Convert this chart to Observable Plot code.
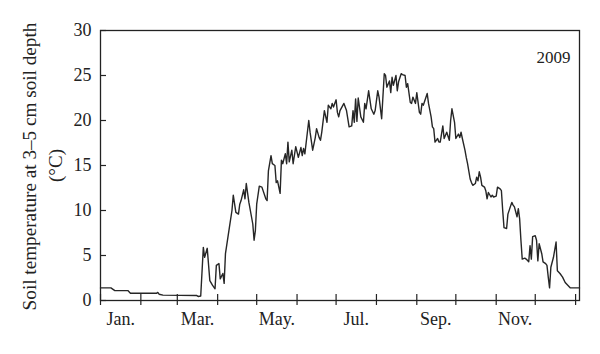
<!DOCTYPE html>
<html><head><meta charset="utf-8">
<script src="https://cdn.jsdelivr.net/npm/d3@7"></script>
<script src="https://cdn.jsdelivr.net/npm/@observablehq/plot@0.6"></script>
<style>body{margin:0;background:#fff;}</style>
</head><body><div id="chart"></div>
<script>
// Day of year (0 = 1 January 2009) and soil temperature (°C)
const days = [0,8,11,21,23,43,44,45,48,74,75,77,79,80,82,84,86,88,89,91,92,94,95,96,99,101,102,104,106,107,108,110,111,112,114,117,118,119,120,122,124,127,128,129,131,132,134,135,136,138,139,140,142,143,144,145,147,148,150,152,154,155,156,157,160,161,163,165,166,168,169,170,172,174,175,177,178,179,181,182,183,184,187,189,191,193,194,195,196,197,198,200,202,203,204,206,208,210,211,213,214,216,218,219,220,222,223,224,225,227,228,229,231,232,234,235,236,238,239,240,242,243,245,246,247,248,251,252,254,255,256,257,259,260,261,263,264,266,268,269,270,272,273,275,276,277,278,280,281,282,284,285,286,288,289,290,291,292,293,295,296,297,298,300,301,302,304,305,307,308,309,310,312,313,316,317,318,320,321,322,323,324,326,327,329,330,331,332,334,335,336,337,339,340,342,343,344,345,346,348,350,351,353,355,357,359,361,368];
const temps = [1.4,1.4,1.1,1.1,0.8,0.8,0.9,0.7,0.6,0.55,0.45,0.5,5.9,4.8,5.8,2.2,1.7,1.3,3.9,4.1,2.4,3.0,1.9,5.2,8.1,10.0,11.7,9.8,9.6,10.7,11.1,12.3,11.3,13.0,10.9,8.5,6.7,7.8,10.7,12.7,12.6,11.3,11.1,14.4,16.1,15.2,15.0,13.1,13.3,11.9,15.6,15.2,16.3,15.2,17.6,15.4,16.7,15.2,17.1,15.9,17.0,16.1,16.9,16.3,20.0,18.7,16.7,18.1,19.1,18.1,17.8,18.7,21.1,19.8,21.7,21.3,21.9,21.5,22.3,20.9,20.4,21.1,21.9,21.1,19.3,19.4,21.1,19.8,22.4,19.9,22.5,20.4,19.8,21.9,21.3,23.3,21.3,20.7,21.1,23.3,22.6,20.2,25.2,25.0,23.7,24.4,23.1,24.8,23.9,25.0,23.3,24.3,25.2,25.1,25.0,23.7,24.1,22.0,21.9,22.6,21.9,23.1,20.9,20.7,21.9,21.7,23.0,21.9,20.4,19.3,19.1,17.6,18.0,17.6,17.6,19.4,18.0,18.7,17.8,20.0,21.3,19.8,18.0,18.5,18.1,18.7,18.0,16.7,15.9,15.2,13.5,13.1,12.8,13.0,13.7,13.3,14.3,13.7,12.8,12.6,12.2,11.3,12.0,11.5,11.7,11.5,11.6,12.6,12.4,12.2,10.0,8.1,8.0,9.6,10.9,10.6,10.4,9.3,10.2,9.1,6.7,4.6,4.7,4.6,4.3,6.1,4.6,7.1,7.2,6.7,4.4,6.3,5.2,4.3,4.1,3.9,2.6,1.4,3.7,4.8,6.5,3.3,3.0,2.6,2.0,1.7,1.4,1.4];
const monthStarts = [0,31,59,90,120,151,181,212,243,273,304,334,365];
const labelDays = [15.5,74.5,135.5,196.5,257.5,318.5];
const labelText = ["Jan.","Mar.","May.","Jul.","Sep.","Nov."];
const yTicks = [0,5,10,15,20,25,30];
const yearLabel = "2009";
const yTitle = "Soil temperature at 3–5 cm soil depth";
const yUnit = "(°C)";

const data = days.map((d, i) => ({day: d, temp: temps[i]}));

const chart = Plot.plot({
  width: 600, height: 354,
  marginLeft: 100, marginRight: 21, marginTop: 30, marginBottom: 54,
  style: {fontFamily: "'Liberation Serif', 'DejaVu Serif', serif", fontSize: "18px", color: "#222", background: "#fff"},
  x: {domain: [0, 368]},
  y: {domain: [0, 30]},
  marks: [
    Plot.axisY({ticks: yTicks, tickSize: 6, dx: 6, tickFormat: () => "", label: null, strokeWidth: 1.2}),
    Plot.axisY({ticks: yTicks, tickSize: 0, tickPadding: 9, label: null}),
    Plot.axisX({ticks: monthStarts, tickSize: 11, dy: -6, tickFormat: () => "", label: null, strokeWidth: 1.2}),
    Plot.axisX({ticks: labelDays, tickSize: 0, tickPadding: 12, tickFormat: d => labelText[labelDays.indexOf(d)], label: null}),
    Plot.frame({stroke: "#222", strokeWidth: 1.3}),
    Plot.lineY(data, {x: "day", y: "temp", stroke: "#262626", strokeWidth: 1.4}),
    Plot.text([yearLabel], {frameAnchor: "top-right", dx: -9, dy: 20, text: d => d, fontSize: 17, textAnchor: "end", lineAnchor: "top"}),
    Plot.text([yTitle], {frameAnchor: "left", rotate: -90, dx: -71, dy: 1, text: d => d, textAnchor: "middle", lineAnchor: "middle", fontSize: 19.2}),
    Plot.text([yUnit], {frameAnchor: "left", rotate: -90, dx: -45, text: d => d, textAnchor: "middle", lineAnchor: "middle", fontSize: 19})
  ]
});
document.getElementById("chart").appendChild(chart);
</script>
</body></html>
